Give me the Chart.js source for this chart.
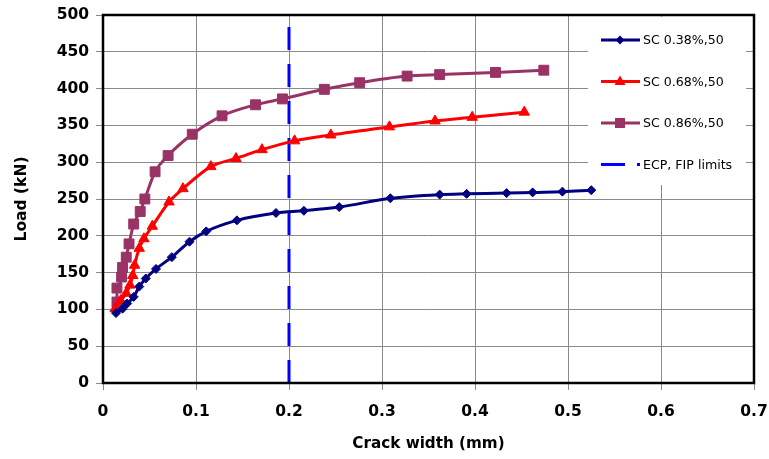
<!DOCTYPE html>
<html>
<head>
<meta charset="utf-8">
<script src="https://cdn.jsdelivr.net/npm/chart.js@4/dist/chart.umd.min.js"></script>
<style>
html,body{margin:0;padding:0;background:#fff;}
#c{display:block;}
</style>
</head>
<body>
<canvas id="c" width="769" height="459"></canvas>
<script>
// ---- data ----
const seriesLabels = ["SC 0.38%,50", "SC 0.68%,50", "SC 0.86%,50", "ECP, FIP limits"];

const sc038X = [0.014, 0.021, 0.026, 0.033, 0.039, 0.046, 0.057, 0.074, 0.093, 0.111, 0.144, 0.186, 0.216, 0.254, 0.309, 0.362, 0.391, 0.434, 0.462, 0.494, 0.525];
const sc038Y = [95, 101, 108, 117, 131, 142, 155, 171, 192, 206, 221, 231, 234, 239, 251, 256, 257, 258, 259, 260, 262];

const sc068X = [0.013, 0.019, 0.025, 0.029, 0.032, 0.034, 0.039, 0.044, 0.053, 0.071, 0.086, 0.116, 0.143, 0.171, 0.206, 0.245, 0.308, 0.357, 0.397, 0.453];
const sc068Y = [101, 112, 122, 133, 146, 160, 183, 196, 213, 246, 264, 294, 305, 317, 329, 337, 348, 356, 361, 368];

const sc086X = [0.015, 0.015, 0.020, 0.021, 0.025, 0.028, 0.033, 0.040, 0.045, 0.056, 0.070, 0.096, 0.128, 0.164, 0.193, 0.238, 0.276, 0.327, 0.362, 0.422, 0.474];
const sc086Y = [110, 129, 144, 157, 171, 189, 216, 233, 250, 287, 309, 338, 363, 378, 386, 399, 408, 417, 419, 422, 425];

const limitX = [0.2, 0.2];
const limitY = [0, 500];

const xTicks = [0, 0.1, 0.2, 0.3, 0.4, 0.5, 0.6, 0.7];
const yTicks = [0, 50, 100, 150, 200, 250, 300, 350, 400, 450, 500];

const colors = ["#000080", "#FF0000", "#993366", "#0000FF"];

function pts(xs, ys) { return xs.map((x, i) => ({x: x, y: ys[i]})); }

const FONT = "'DejaVu Sans', sans-serif";

const legendPlugin = {
  id: 'boxLegend',
  afterDatasetsDraw(chart) {
    const ctx = chart.ctx;
    ctx.save();
    ctx.fillStyle = '#ffffff';
    ctx.fillRect(588, 17, 158, 168);
    const x0 = 601, x1 = 640, xm = 620;
    chart.data.datasets.forEach((ds, i) => {
      const y = 40 + i * 41.5;
      ctx.strokeStyle = ds.borderColor;
      ctx.fillStyle = ds.borderColor;
      ctx.lineWidth = 3;
      if (ds.borderDash) ctx.setLineDash([24, 12]); else ctx.setLineDash([]);
      ctx.beginPath(); ctx.moveTo(x0, y); ctx.lineTo(x1, y); ctx.stroke();
      ctx.setLineDash([]);
      ctx.beginPath();
      if (ds.pointStyle === 'rectRot') {
        ctx.moveTo(xm, y - 4.5); ctx.lineTo(xm + 4.5, y); ctx.lineTo(xm, y + 4.5); ctx.lineTo(xm - 4.5, y); ctx.closePath(); ctx.fill();
      } else if (ds.pointStyle === 'triangle') {
        ctx.moveTo(xm, y - 6); ctx.lineTo(xm + 5.5, y + 3.5); ctx.lineTo(xm - 5.5, y + 3.5); ctx.closePath(); ctx.fill();
      } else if (ds.pointStyle === 'rect') {
        ctx.rect(xm - 5, y - 5, 10, 10); ctx.fill();
      }
      ctx.fillStyle = '#000';
      ctx.font = "12.6px " + FONT;
      ctx.textBaseline = 'middle';
      ctx.textAlign = 'left';
      ctx.fillText(ds.label, 643, y + 1);
    });
    ctx.restore();
  },
  afterDraw(chart) {
    const a = chart.chartArea, ctx = chart.ctx;
    ctx.save();
    ctx.strokeStyle = '#000';
    ctx.lineWidth = 2.5;
    ctx.strokeRect(a.left, a.top, a.right - a.left, a.bottom - a.top);
    ctx.restore();
  }
};

new Chart(document.getElementById('c'), {
  type: 'line',
  data: {
    datasets: [
      {label: seriesLabels[0], data: pts(sc038X, sc038Y), borderColor: colors[0], backgroundColor: colors[0],
       pointStyle: 'rectRot', pointRadius: 4.5, pointBorderWidth: 1, borderWidth: 3, cubicInterpolationMode: 'monotone'},
      {label: seriesLabels[1], data: pts(sc068X, sc068Y), borderColor: colors[1], backgroundColor: colors[1],
       pointStyle: 'triangle', pointRadius: 6, pointBorderWidth: 1, borderWidth: 3, cubicInterpolationMode: 'monotone'},
      {label: seriesLabels[2], data: pts(sc086X, sc086Y), borderColor: colors[2], backgroundColor: colors[2],
       pointStyle: 'rect', pointRadius: 7, pointBorderWidth: 1, borderWidth: 3, cubicInterpolationMode: 'monotone'},
      {label: seriesLabels[3], data: pts(limitX, limitY), borderColor: colors[3], backgroundColor: colors[3],
       pointRadius: 0, borderWidth: 3, borderDash: [23, 14]}
    ]
  },
  options: {
    responsive: false,
    animation: false,
    devicePixelRatio: 1,
    layout: {padding: {top: 15, right: 15, left: 0, bottom: 0}},
    plugins: {legend: {display: false}, tooltip: {enabled: false}},
    scales: {
      x: {
        type: 'linear', min: xTicks[0], max: xTicks[xTicks.length - 1],
        afterBuildTicks: s => { s.ticks = xTicks.map(v => ({value: v})); },
        afterFit: s => { s.height = 76; s.paddingLeft = 0; s.paddingRight = 0; },
        ticks: {color: '#000', font: {family: FONT, size: 15.5, weight: 'bold'}, padding: 13, maxRotation: 0,
                callback: v => String(Math.round(v * 10) / 10)},
        grid: {color: '#8a8a8a', lineWidth: 1, tickLength: 7, tickColor: '#8a8a8a'},
        border: {display: false},
        title: {display: true, text: 'Crack width (mm)', color: '#000', font: {family: FONT, size: 15.2, weight: 'bold'}, padding: {top: 0, bottom: 6}}
      },
      y: {
        type: 'linear', min: yTicks[0], max: yTicks[yTicks.length - 1],
        afterBuildTicks: s => { s.ticks = yTicks.map(v => ({value: v})); },
        afterFit: s => { s.width = 103; s.paddingTop = 0; s.paddingBottom = 0; },
        ticks: {color: '#000', font: {family: FONT, size: 15.5, weight: 'bold'}, padding: 7},
        grid: {color: '#8a8a8a', lineWidth: 1, tickLength: 7, tickColor: '#8a8a8a'},
        border: {display: false},
        title: {display: true, text: 'Load (kN)', color: '#000', font: {family: FONT, size: 15.5, weight: 'bold'}, padding: {top: 13, bottom: 0}}
      }
    }
  },
  plugins: [legendPlugin]
});
</script>
</body>
</html>
